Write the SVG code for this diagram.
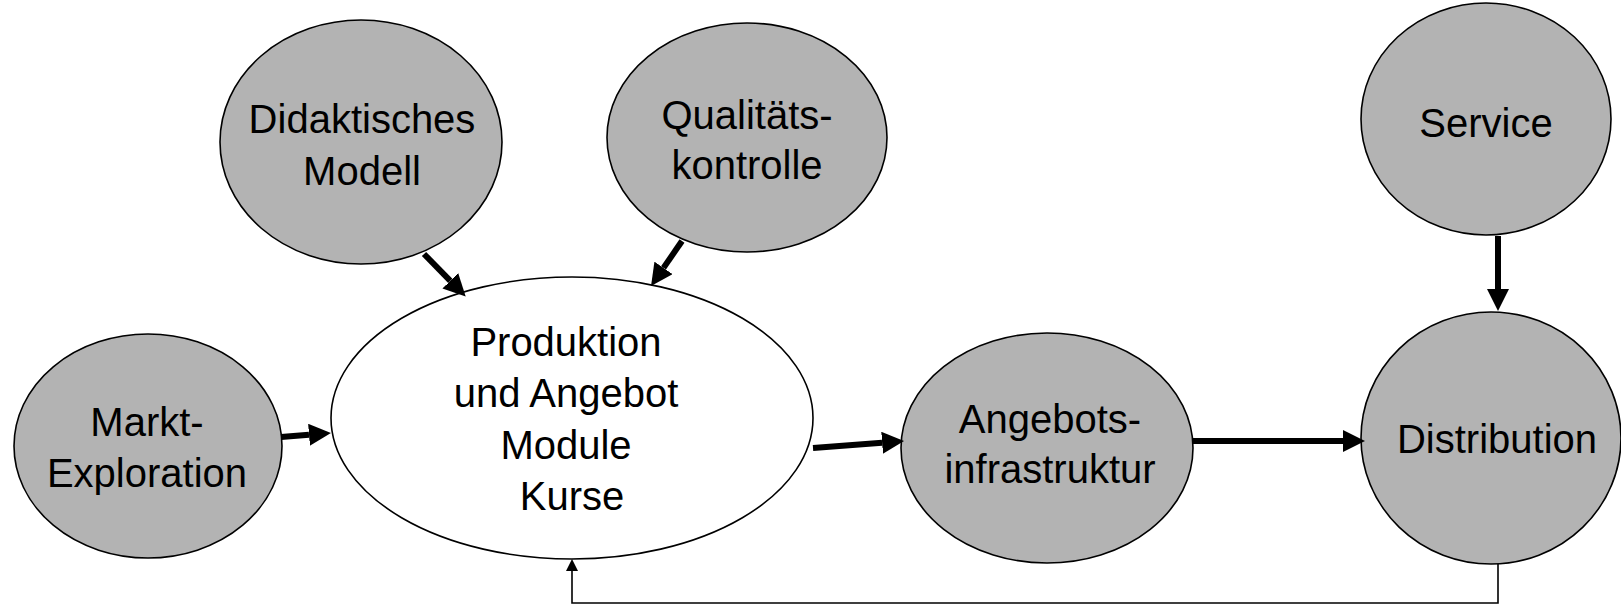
<svg xmlns="http://www.w3.org/2000/svg" width="1621" height="606" viewBox="0 0 1621 606">
<style>
.n{fill:#b3b3b3;stroke:#000;stroke-width:1.6}
.w{fill:#fff;stroke:#000;stroke-width:1.6}
text{font-family:"Liberation Sans",Arial,sans-serif;font-size:40px;fill:#000;text-anchor:middle}
.c{stroke:#000;stroke-width:6;fill:none}
.t{stroke:#000;stroke-width:1.6;fill:none}
</style>
<defs>
<marker id="ah" viewBox="0 0 10 10" refX="0" refY="5" markerWidth="22" markerHeight="22" markerUnits="userSpaceOnUse" orient="auto"><path d="M0,0 L10,5 L0,10 z" fill="#000"/></marker>
<marker id="as" viewBox="0 0 10 10" refX="0" refY="5" markerWidth="12" markerHeight="12" markerUnits="userSpaceOnUse" orient="auto"><path d="M0,0 L10,5 L0,10 z" fill="#000"/></marker>
</defs>
<rect width="1621" height="606" fill="#fff"/>
<g id="markt"><ellipse class="n" cx="148" cy="446" rx="134" ry="112"/><text x="147" y="436">Markt-</text><text x="147" y="487">Exploration</text></g>
<g id="produktion"><ellipse class="w" cx="572" cy="418" rx="241" ry="141"/><text x="566" y="356">Produktion</text><text x="566" y="407">und Angebot</text><text x="566" y="459">Module</text><text x="572" y="510">Kurse</text></g>
<g id="didaktisch"><ellipse class="n" cx="361" cy="142" rx="141" ry="122"/><text x="362" y="133">Didaktisches</text><text x="362" y="185">Modell</text></g>
<g id="qualitaet"><ellipse class="n" cx="747" cy="137.5" rx="140" ry="114.5"/><text x="747" y="129">Qualitäts-</text><text x="747" y="179">kontrolle</text></g>
<g id="angebots"><ellipse class="n" cx="1047" cy="448" rx="146" ry="115"/><text x="1050" y="433">Angebots-</text><text x="1050" y="483">infrastruktur</text></g>
<g id="service"><ellipse class="n" cx="1486" cy="119" rx="125" ry="116"/><text x="1486" y="137">Service</text></g>
<g id="distribution"><ellipse class="n" cx="1491" cy="438" rx="130" ry="126"/><text x="1497" y="453">Distribution</text></g>
<g id="connectors">
<line class="c" x1="281" y1="437" x2="309" y2="434.8" marker-end="url(#ah)"/>
<line class="c" x1="424" y1="254" x2="450.3" y2="280.8" marker-end="url(#ah)"/>
<line class="c" x1="682" y1="241" x2="663.5" y2="267.9" marker-end="url(#ah)"/>
<line class="c" x1="813" y1="448" x2="882.1" y2="442.7" marker-end="url(#ah)"/>
<line class="c" x1="1193" y1="441" x2="1343" y2="441" marker-end="url(#ah)"/>
<line class="c" x1="1498" y1="236" x2="1498" y2="289" marker-end="url(#ah)"/>
<path class="t" d="M1498,564 V603 H572 V571" marker-end="url(#as)"/>
</g>
</svg>
